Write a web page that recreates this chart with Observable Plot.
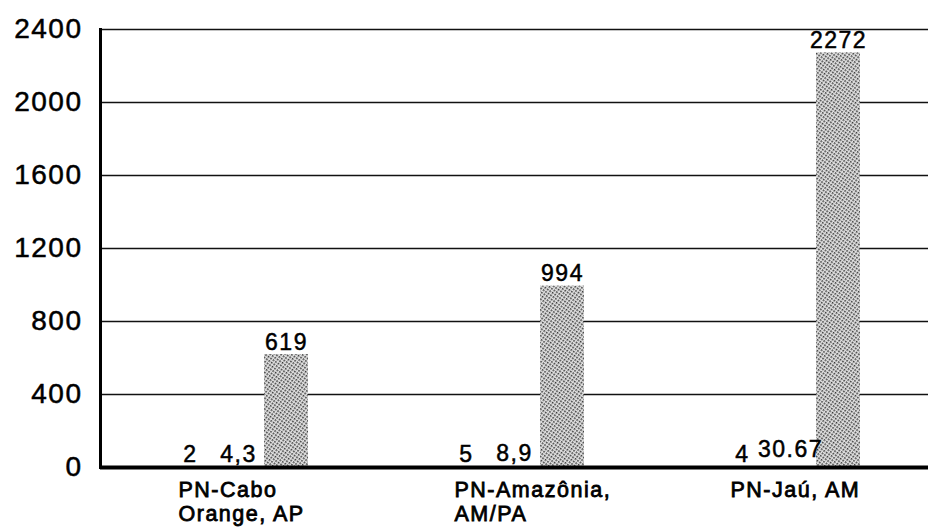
<!DOCTYPE html>
<html>
<head>
<meta charset="utf-8">
<script src="https://cdn.jsdelivr.net/npm/d3@7"></script>
<script src="https://cdn.jsdelivr.net/npm/@observablehq/plot@0.6"></script>
<style>
  html, body { margin: 0; padding: 0; background: #fff; }
  #chart text { stroke: #000; stroke-width: 0.5px; }
  #chart g[aria-label="fx-axis tick label"] text { stroke-width: 0.8px; }
</style>
</head>
<body>
<div id="chart"></div>
<script>
const parks = ["PN-Cabo\nOrange, AP", "PN-Amazônia,\nAM/PA", "PN-Jaú, AM"];
const series = ["s1", "s2", "s3"];
const s1 = [2, 5, 4];
const s2 = [4.3, 8.9, 30.67];
const s3 = [619, 994, 2272];
const lbl1 = ["2", "5", "4"];
const lbl2 = ["4,3", "8,9", "30.67"];
const lbl3 = ["619", "994", "2272"];
const yTicks = [0, 400, 800, 1200, 1600, 2000, 2400];

const data = parks.flatMap((p, i) => [
  {park: p, series: "s1", value: s1[i], label: lbl1[i]},
  {park: p, series: "s2", value: s2[i], label: lbl2[i]},
  {park: p, series: "s3", value: s3[i], label: lbl3[i]}
]);

const chart = Plot.plot({
  width: 929,
  height: 529,
  marginTop: 29,
  marginLeft: 99,
  marginRight: 0,
  marginBottom: 62,
  style: {fontFamily: "'Liberation Sans', Arial, sans-serif", letterSpacing: "1.5px", color: "#000", background: "#fff"},
  fx: {domain: parks, padding: 0, label: null},
  x: {domain: series, paddingInner: 0.08, paddingOuter: 1.36, axis: null},
  y: {domain: [0, 2400], label: null},
  marks: [
    Plot.ruleY(yTicks.filter(d => d > 0), {stroke: "#111", strokeWidth: 1.5}),
    Plot.barY(data, {fx: "park", x: "series", y: "value", fill: d => d.series === "s3" ? "url(#hatch)" : "none"}),
    Plot.text(data, {fx: "park", x: "series", y: "value", text: "label", lineAnchor: "bottom", dy: -5, fontSize: 23, fill: "#000"}),
    Plot.ruleY([0], {stroke: "#000", strokeWidth: 4}),
    Plot.frame({anchor: "left", facetAnchor: "left", stroke: "#000", strokeWidth: 3}),
    Plot.axisY({ticks: yTicks, tickSize: 0, tickPadding: 18, fontSize: 28, label: null, tickFormat: d => String(d)}),
    Plot.axisFx({anchor: "bottom", tickSize: 0, tickPadding: 12, textAnchor: "start", dx: -60, fontSize: 21.5, lineHeight: 1.12, label: null})
  ]
});

const ns = "http://www.w3.org/2000/svg";
const svg = chart.tagName.toLowerCase() === "svg" ? chart : chart.querySelector("svg");
const defs = document.createElementNS(ns, "defs");
defs.innerHTML = `<pattern id="hatch" width="3" height="3" patternUnits="userSpaceOnUse" patternTransform="rotate(35)">
  <rect width="3" height="3" fill="#e2e2e2"></rect>
  <rect x="0" y="0" width="1.6" height="1.6" fill="#333"></rect>
</pattern>`;
svg.insertBefore(defs, svg.firstChild);
document.getElementById("chart").appendChild(chart);
</script>
</body>
</html>
